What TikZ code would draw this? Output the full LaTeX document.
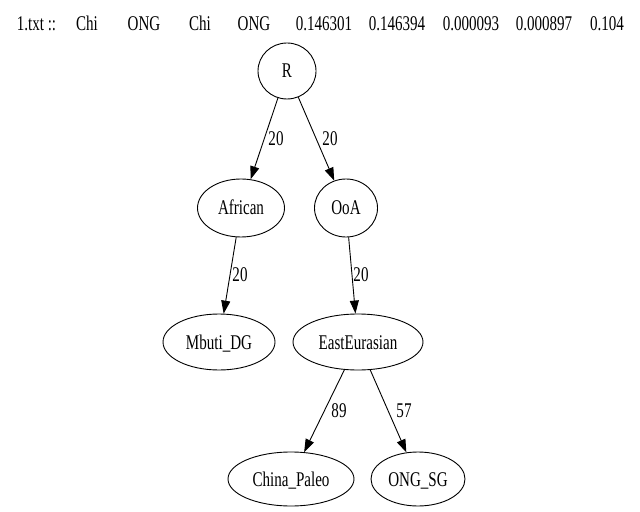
\documentclass[tikz,border=0pt]{standalone}
\usepackage{fontspec}
\setmainfont{Liberation Serif}[FakeStretch=0.72]
\usetikzlibrary{arrows.meta,shapes.geometric}
\tikzset{
  every node/.style={font=\fontsize{21}{24}\selectfont},
  vnode/.style={draw, ellipse, line width=0.9bp, inner sep=0pt, text height=14bp, text depth=0bp},
  lbl/.style={inner sep=0pt, text height=14bp, text depth=0bp},
  toptxt/.style={inner sep=0pt, anchor=base},
  arr/.style={line width=0.9bp, -{Triangle[length=13bp,width=9bp]}}
}
\begin{document}
\begin{tikzpicture}[x=1bp,y=-1bp]
\useasboundingbox (0,0) rectangle (640,512);
% top text
\node[toptxt] (t1) at (36.5,31) {1.txt ::};
\node[toptxt] (t2) at (87,31) {Chi};
\node[toptxt] (t3) at (144,31) {ONG};
\node[toptxt] (t4) at (200,31) {Chi};
\node[toptxt] (t5) at (254,31) {ONG};
\node[toptxt] (t6) at (324,31) {0.146301};
\node[toptxt] (t7) at (397,31) {0.146394};
\node[toptxt] (t8) at (471,31) {0.000093};
\node[toptxt] (t9) at (544,31) {0.000897};
\node[toptxt] (t10) at (607,31) {0.104};
% nodes
\node[vnode, minimum width=58bp, minimum height=56bp] (R) at (287,71) {R};
\node[vnode, minimum width=87bp, minimum height=58bp] (African) at (241,208) {African};
\node[vnode, minimum width=63bp, minimum height=58bp] (OoA) at (346,208) {OoA};
\node[vnode, minimum width=112bp, minimum height=56bp] (Mbuti) at (219,342) {Mbuti\_DG};
\node[vnode, minimum width=130bp, minimum height=56bp] (EE) at (358,342) {EastEurasian};
\node[vnode, minimum width=126bp, minimum height=54bp] (CP) at (291,479) {China\_Paleo};
\node[vnode, minimum width=94bp, minimum height=54bp] (ONG) at (418,479) {ONG\_SG};
% edges
\draw[arr] (R) -- (African);
\draw[arr] (R) -- (OoA);
\draw[arr] (African) -- (Mbuti);
\draw[arr] (OoA) -- (EE);
\draw[arr] (EE) -- (CP);
\draw[arr] (EE) -- (ONG);
% edge labels
\node[lbl] (l1) at (276,139) {20};
\node[lbl] (l2) at (330,139) {20};
\node[lbl] (l3) at (240,274) {20};
\node[lbl] (l4) at (361,274) {20};
\node[lbl] (l5) at (339,410) {89};
\node[lbl] (l6) at (404,410) {57};
\end{tikzpicture}
\end{document}
